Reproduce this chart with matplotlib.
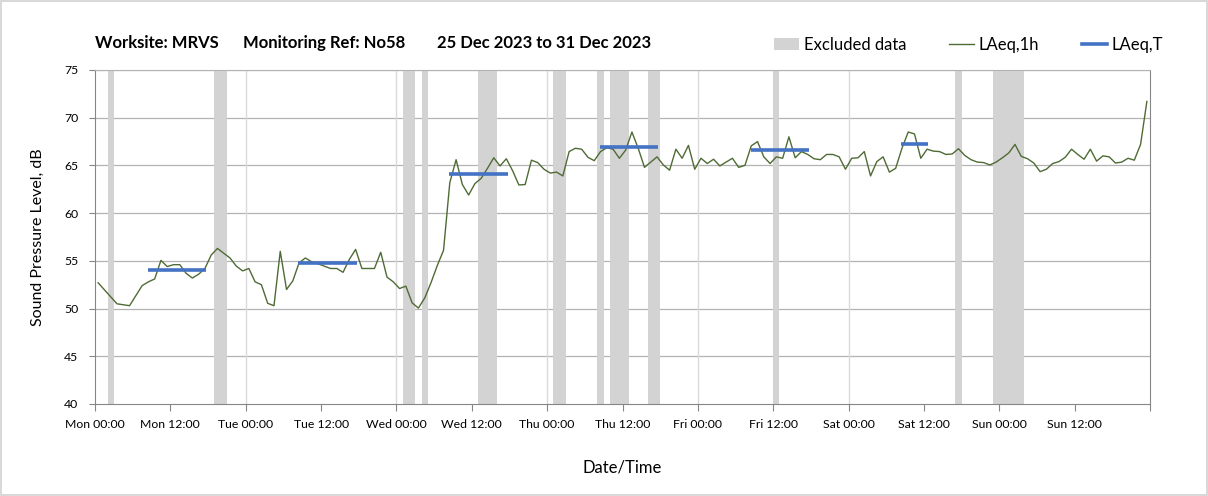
import numpy as np
import matplotlib
matplotlib.use('Agg')
from matplotlib import pyplot as plt
from matplotlib.patches import Patch
from matplotlib.lines import Line2D

plt.rcParams['font.family'] = ['Lato', 'DejaVu Sans']

# hourly LAeq,1h readings, hour of week (Mon 00:00 = 0), plotted at mid-hour
hours = [0, 3, 4, 5, 7, 8, 9, 10, 11, 12, 13, 14, 15, 16, 17, 18, 19, 20, 21, 22, 23,
         24, 25, 26, 27, 28, 29, 30, 31, 32, 33, 34, 35, 36, 37, 38, 39, 40, 41, 42, 43,
         44, 45, 46, 47, 48, 49, 50, 51, 52, 53, 54, 55, 56, 57, 58, 59, 60, 61, 62, 63,
         64, 65, 66, 67, 68, 69, 70, 71, 72, 73, 74, 75, 76, 77, 78, 79, 80, 81, 82, 83,
         84, 85, 86, 87, 88, 89, 90, 91, 92, 93, 94, 95, 96, 97, 98, 99, 100, 101, 102,
         103, 104, 105, 106, 107, 108, 109, 110, 111, 112, 113, 114, 115, 116, 117, 118,
         119, 120, 121, 122, 123, 124, 125, 126, 127, 128, 129, 130, 131, 132, 133, 134,
         135, 136, 137, 138, 139, 140, 141, 142, 143, 144, 145, 146, 147, 148, 149, 150,
         151, 152, 153, 154, 155, 156, 157, 158, 159, 160, 161, 162, 163, 164, 165, 166, 167]
laeq_1h = [52.7, 50.5, 50.4, 50.3, 52.4, 52.8, 53.1, 55.05, 54.4, 54.6, 54.6, 53.7, 53.2,
           53.6, 54.2, 55.6, 56.3, 55.8, 55.3, 54.45, 53.95,
           54.2, 52.8, 52.5, 50.55, 50.3, 56.0, 52.0, 52.9, 54.8, 55.3, 54.9, 54.7, 54.45,
           54.2, 54.2, 53.8, 55.15, 56.2, 54.2, 54.2, 54.2, 55.9, 53.3, 52.8,
           52.1, 52.35, 50.6, 50.05, 51.1, 52.7, 54.5, 56.1, 63.2, 65.6, 63.0, 61.9, 63.1,
           63.65, 64.7, 65.8, 64.95, 65.7, 64.45, 62.95, 63.0, 65.55, 65.3, 64.6,
           64.2, 64.3, 63.9, 66.45, 66.8, 66.7, 65.85, 65.5, 66.45, 66.85, 66.7, 65.75,
           66.6, 68.5, 66.8, 64.8, 65.35, 65.9, 65.05, 64.5, 66.7, 65.75, 67.1, 64.6,
           65.75, 65.2, 65.65, 64.95, 65.35, 65.75, 64.8, 65.0, 67.05, 67.5, 65.9, 65.2,
           65.9, 65.75, 68.0, 65.8, 66.45, 66.15, 65.7, 65.6, 66.15, 66.15, 65.9, 64.6,
           65.75, 65.8, 66.45, 63.9, 65.4, 65.9, 64.3, 64.7, 66.8, 68.5, 68.3, 65.75,
           66.7, 66.5, 66.45, 66.15, 66.2, 66.75, 66.05, 65.6, 65.35, 65.3, 65.05,
           65.35, 65.8, 66.3, 67.2, 65.95, 65.7, 65.25, 64.35, 64.6, 65.2, 65.4, 65.85,
           66.7, 66.15, 65.65, 66.7, 65.45, 66.0, 65.9, 65.25, 65.35, 65.75, 65.55,
           67.2, 71.7]

# LAeq,T over each daytime period
t_start = [8.4, 32.4, 56.4, 80.4, 104.4, 128.4]
t_end = [17.7, 41.7, 65.7, 89.7, 113.7, 132.7]
laeq_t = [54.0, 54.8, 64.15, 66.9, 66.6, 67.2]

# excluded data periods (hour of week)
excl_start = [2, 19, 49, 52, 61, 73, 80, 82, 88, 108, 137, 143]
excl_end = [3, 21, 51, 53, 64, 75, 81, 85, 90, 109, 138, 148]

tick_labels = ['Mon 00:00', 'Mon 12:00', 'Tue 00:00', 'Tue 12:00', 'Wed 00:00',
               'Wed 12:00', 'Thu 00:00', 'Thu 12:00', 'Fri 00:00', 'Fri 12:00',
               'Sat 00:00', 'Sat 12:00', 'Sun 00:00', 'Sun 12:00', '']

title_parts = ['Worksite: MRVS', 'Monitoring Ref: No58', '25 Dec 2023 to 31 Dec 2023']

fig = plt.figure(figsize=(12.08, 4.96), dpi=100)
fig.patch.set_edgecolor('#d9d9d9')
fig.patch.set_linewidth(1.5)
ax = fig.add_axes([95/1208, 1 - 404/496, 1055/1208, 334/496])

for s, e in zip(excl_start, excl_end):
    ax.axvspan(s, e, color='#d3d3d3', lw=0, zorder=1)

x = np.array(hours) + 0.5
ax.plot(x, laeq_1h, color='#4f6b35', lw=1.0, zorder=3)
for s, e, v in zip(t_start, t_end, laeq_t):
    ax.plot([s, e], [v, v], color='#4472c4', lw=2.6, solid_capstyle='butt', zorder=4)

ax.set_xlim(0, 168)
ax.set_ylim(40, 75)
ax.set_yticks(np.arange(40, 76, 5))
ax.set_xticks(np.arange(0, 169, 12))
ax.set_xticklabels(tick_labels, fontsize=8.8)
ax.tick_params(axis='y', labelsize=8.8, length=4, color='#868686', pad=8)
ax.tick_params(axis='x', length=5, color='#868686', pad=6)

ax.grid(False)
for y in range(45, 76, 5):
    ax.axhline(y, color='#b3b3b3', lw=0.9, zorder=0)
for d in range(24, 168, 24):
    ax.axvline(d, color='#dadada', lw=1.0, zorder=0)
for side in ['left', 'bottom', 'right']:
    ax.spines[side].set_color('#868686')
ax.spines['top'].set_color('#b3b3b3')

ax.set_ylabel('Sound Pressure Level, dB', fontsize=11.5, labelpad=14)
ax.set_xlabel('Date/Time', fontsize=12, labelpad=21)

for px, txt in zip([95, 243, 437], title_parts):
    fig.text(px/1208, 1 - 43/496, txt, fontsize=12, fontweight='bold', va='center', ha='left')

handles = [Patch(facecolor='#d3d3d3', edgecolor='none'),
           Line2D([], [], color='#4f6b35', lw=1.0),
           Line2D([], [], color='#4472c4', lw=2.6)]
fig.legend(handles, ['Excluded data', 'LAeq,1h', 'LAeq,T'], loc='center right',
           bbox_to_anchor=(1178/1208, 1 - 45/496), ncol=3, frameon=False, fontsize=12,
           handlelength=1.5, handletextpad=0.25, columnspacing=2.6)

plt.savefig('out.png', dpi=100)
